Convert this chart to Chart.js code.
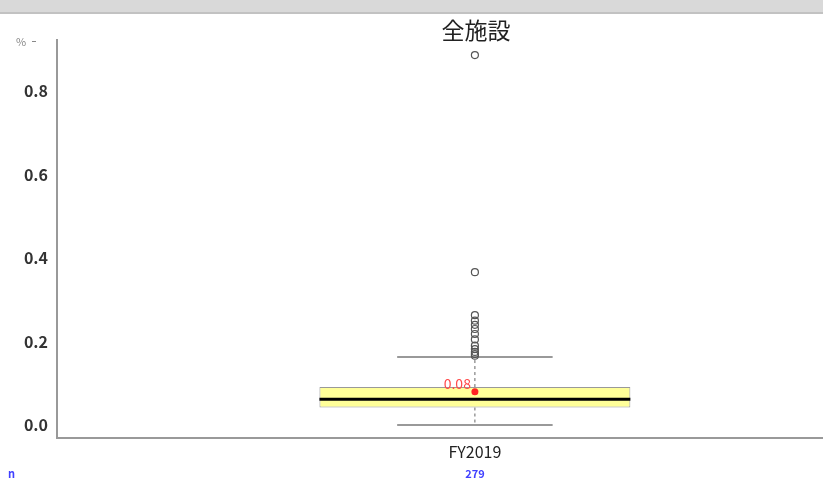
<!DOCTYPE html>
<html>
<head>
<meta charset="utf-8">
<script src="https://cdn.jsdelivr.net/npm/chart.js@4"></script>
<style>
    html, body { margin: 0; padding: 0; background: #fff; overflow: hidden; width: 823px; height: 479px; }
    #topbar { position: absolute; left: 0; top: 0; width: 823px; height: 12px; background: #d9d9d9; border-bottom: 2px solid #c2c2c2; z-index: 2; }
    #c { position: absolute; left: 0; top: 0; }
</style>
</head>
<body>
<div id="topbar"></div>
<canvas id="c" width="898" height="479"></canvas>
<script>
// データ
const categories = ['FY2019'];
const counts = [279];
const lowerWhisker = [0.0];
const q1 = [0.042];
const median = [0.062];
const q3 = [0.091];
const upperWhisker = [0.163];
const means = [0.08];
const outliers = [[0.886, 0.366, 0.263, 0.250, 0.240, 0.230, 0.218, 0.205, 0.190, 0.182, 0.175, 0.170, 0.166]];
const yTicks = [0, 0.2, 0.4, 0.6, 0.8];

const titleText = '全施設';
const jpFont = '"Noto Sans CJK JP", "Noto Sans", sans-serif';

// 箱ひげ図の補助描画（ひげ・中央値・ラベル）
const boxPlugin = {
    id: 'boxExtras',
    beforeDatasetsDraw(chart) {
        const ctx = chart.ctx;
        const x = chart.scales.x, y = chart.scales.y;
        const bars = chart.getDatasetMeta(0).data;
        ctx.save();
        categories.forEach((c, i) => {
            const px = x.getPixelForValue(i);
            const half = bars[i].width / 4;
            // 点線
            ctx.strokeStyle = '#666';
            ctx.lineWidth = 1;
            ctx.setLineDash([3, 3]);
            ctx.beginPath();
            ctx.moveTo(px, y.getPixelForValue(q3[i]));
            ctx.lineTo(px, y.getPixelForValue(upperWhisker[i]));
            ctx.moveTo(px, y.getPixelForValue(q1[i]));
            ctx.lineTo(px, y.getPixelForValue(lowerWhisker[i]));
            ctx.stroke();
            // ひげ
            ctx.setLineDash([]);
            ctx.strokeStyle = '#999';
            ctx.lineWidth = 2;
            ctx.beginPath();
            [upperWhisker[i], lowerWhisker[i]].forEach(v => {
                const py = y.getPixelForValue(v);
                ctx.moveTo(px - half, py);
                ctx.lineTo(px + half, py);
            });
            ctx.stroke();
        });
        ctx.restore();
    },
    afterDatasetDraw(chart, args) {
        if (args.index !== 0) return;
        const ctx = chart.ctx;
        const x = chart.scales.x, y = chart.scales.y;
        const bars = chart.getDatasetMeta(0).data;
        ctx.save();
        categories.forEach((c, i) => {
            const px = x.getPixelForValue(i);
            const half = bars[i].width / 2;
            const py = y.getPixelForValue(median[i]);
            ctx.strokeStyle = '#000';
            ctx.lineWidth = 3;
            ctx.beginPath();
            ctx.moveTo(px - half, py);
            ctx.lineTo(px + half, py);
            ctx.stroke();
        });
        ctx.restore();
    },
    afterDraw(chart) {
        const ctx = chart.ctx;
        const area = chart.chartArea;
        const x = chart.scales.x, y = chart.scales.y;
        ctx.save();
        // タイトル
        ctx.fillStyle = '#222';
        ctx.font = '23px ' + jpFont;
        ctx.textAlign = 'center';
        ctx.textBaseline = 'middle';
        ctx.fillText(titleText, (area.left + area.right) / 2 + 1, 30);
        // 単位
        ctx.fillStyle = '#888';
        ctx.font = '11px ' + jpFont;
        ctx.textAlign = 'left';
        ctx.fillText('%', 16, 42);
        ctx.fillRect(32, 41, 4, 1);
        // 平均値ラベル
        ctx.fillStyle = '#ff4a4a';
        ctx.font = '14px ' + jpFont;
        ctx.textAlign = 'right';
        ctx.textBaseline = 'bottom';
        categories.forEach((c, i) => {
            const px = x.getPixelForValue(i);
            const py = y.getPixelForValue(means[i]);
            ctx.fillText(means[i].toFixed(2), px - 4, py - 1);
        });
        // n
        ctx.fillStyle = '#4040ff';
        ctx.font = 'bold 11px ' + jpFont;
        ctx.textBaseline = 'middle';
        ctx.textAlign = 'left';
        ctx.fillText('n', 8, 474);
        ctx.textAlign = 'center';
        categories.forEach((c, i) => {
            ctx.fillText(String(counts[i]), x.getPixelForValue(i), 474);
        });
        ctx.restore();
    }
};

const outlierData = [];
outliers.forEach((list, i) => list.forEach(v => outlierData.push({ x: categories[i], y: v })));

new Chart(document.getElementById('c'), {
    data: {
        labels: categories,
        datasets: [
            {
                type: 'bar',
                data: categories.map((c, i) => [q1[i], q3[i]]),
                backgroundColor: '#ffff99',
                borderColor: '#999',
                borderWidth: 1,
                borderSkipped: false,
                categoryPercentage: 1,
                barPercentage: 0.372,
                order: 3
            },
            {
                type: 'line',
                data: outlierData,
                showLine: false,
                pointRadius: 3.5,
                pointBorderWidth: 1.2,
                pointBackgroundColor: 'rgba(0,0,0,0)',
                pointBorderColor: '#555',
                order: 2
            },
            {
                type: 'line',
                data: means,
                showLine: false,
                pointRadius: 3.5,
                pointBorderWidth: 0,
                pointBackgroundColor: '#ff2222',
                order: 1
            }
        ]
    },
    options: {
        responsive: false,
        animation: false,
        events: [],
        layout: { padding: { top: 40, left: 0, right: 0, bottom: 0 } },
        plugins: {
            legend: { display: false },
            title: { display: false },
            tooltip: { enabled: false }
        },
        scales: {
            x: {
                type: 'category',
                grid: { display: false, drawTicks: true, tickLength: 4, tickColor: '#999' },
                border: { color: '#999', width: 2 },
                ticks: { color: '#222', font: { family: jpFont, size: 16 }, padding: 0 },
                afterFit(scale) { scale.height = 41; }
            },
            y: {
                min: -0.031,
                max: 0.922,
                grid: { display: false, drawOnChartArea: false, drawTicks: true, tickLength: 4, tickColor: '#999' },
                border: { color: '#999', width: 2 },
                ticks: {
                    color: '#333',
                    font: { family: jpFont, size: 16, weight: 'bold' },
                    padding: 5,
                    callback: v => v.toFixed(1)
                },
                afterBuildTicks(scale) { scale.ticks = yTicks.map(v => ({ value: v })); },
                afterFit(scale) { scale.width = 57; }
            }
        }
    },
    plugins: [boxPlugin]
});
</script>
</body>
</html>
